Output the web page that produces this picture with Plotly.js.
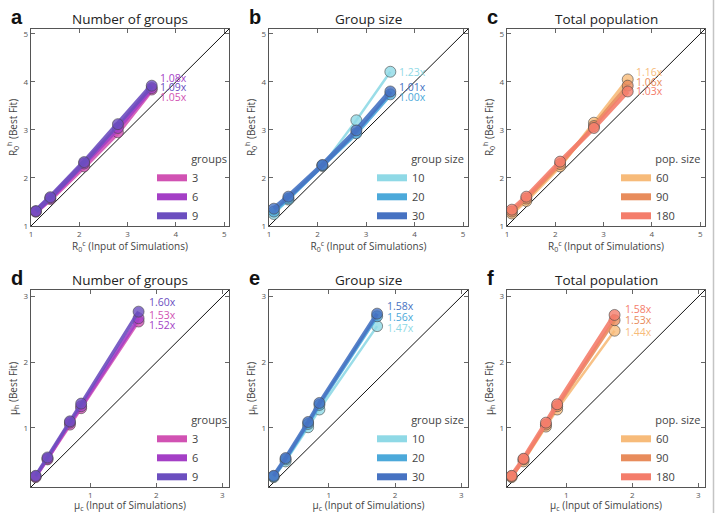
<!DOCTYPE html>
<html>
<head>
<meta charset="utf-8">
<script src="https://cdn.plot.ly/plotly-3.0.1.min.js"></script>
<style>html,body{margin:0;padding:0;background:#fff;}#chart{width:718px;height:513px;}</style>
</head>
<body>
<div id="chart"></div>
<script>
// ---------------- data ----------------
const xR0 = [1.1, 1.4, 2.1, 2.8, 3.5];          // R0 input values (top row)
const xMu = [0.17, 0.35, 0.69, 0.86, 1.73];     // mu input values (bottom row)

const groupLabels = ['3', '6', '9'];
const sizeLabels = ['10', '20', '30'];
const popLabels = ['60', '90', '180'];

// panel a: number of groups (R0)
const a_g3 = [1.30, 1.56, 2.24, 2.95, 3.84];
const a_g6 = [1.30, 1.58, 2.30, 3.04, 3.87];
const a_g9 = [1.31, 1.60, 2.33, 3.12, 3.92];
const a_slopes = ['1.05x', '1.08x', '1.09x'];

// panel b: group size (R0)
const b_s10 = [1.25, 1.55, 2.25, 3.20, 4.21];
const b_s20 = [1.30, 1.57, 2.26, 2.93, 3.74];
const b_s30 = [1.36, 1.61, 2.27, 2.99, 3.80];
const b_slopes = ['1.23x', '1.00x', '1.01x'];

// panel c: total population (R0)
const c_p60 = [1.26, 1.52, 2.24, 3.15, 4.05];
const c_p90 = [1.30, 1.57, 2.29, 3.08, 3.92];
const c_p180 = [1.34, 1.61, 2.34, 3.04, 3.80];
const c_slopes = ['1.16x', '1.06x', '1.03x'];

// panel d: number of groups (mu)
const d_g3 = [0.25, 0.52, 1.05, 1.30, 2.62];
const d_g6 = [0.26, 0.53, 1.08, 1.33, 2.67];
const d_g9 = [0.27, 0.55, 1.10, 1.37, 2.77];
const d_slopes = ['1.53x', '1.52x', '1.60x'];

// panel e: group size (mu)
const e_s10 = [0.25, 0.49, 1.01, 1.28, 2.55];
const e_s20 = [0.26, 0.52, 1.06, 1.35, 2.70];
const e_s30 = [0.27, 0.54, 1.09, 1.38, 2.74];
const e_slopes = ['1.47x', '1.56x', '1.58x'];

// panel f: total population (mu)
const f_p60 = [0.25, 0.49, 1.02, 1.28, 2.48];
const f_p90 = [0.26, 0.52, 1.05, 1.33, 2.64];
const f_p180 = [0.27, 0.53, 1.08, 1.36, 2.72];
const f_slopes = ['1.44x', '1.53x', '1.58x'];

const titles = ['Number of groups', 'Group size', 'Total population'];
const legendTitles = ['groups', 'group size', 'pop. size'];
const panelLetters = ['a', 'b', 'c', 'd', 'e', 'f'];
const rangeR0 = [1, 5.1];
const rangeMu = [0.1, 3.1];
const ticksR0 = [1, 2, 3, 4, 5];
const ticksMu = [1, 2, 3];

// ---------------- styles / positions ----------------
const palettes = [
  ['#d152b3', '#a43fc6', '#6b4ebf'],
  ['#8fd9e6', '#4ca9da', '#4672c2'],
  ['#f7bb7a', '#e88c5c', '#f47d6b']
];
const lineWidths = [
  [5, 5, 5], [2.5, 4, 5], [3.5, 4, 4.5],
  [3, 3.5, 3.5], [2.5, 3.5, 4], [2.5, 3.5, 4.5]
];
// label y (data coords) for each series label, same series order
const labelY = [
  [3.69, 4.09, 3.90],
  [4.20, 3.68, 3.90],
  [4.20, 3.99, 3.80],
  [2.72, 2.56, 2.91],
  [2.52, 2.69, 2.85],
  [2.46, 2.64, 2.81]
];
const labelX = [3.64, 3.64, 3.64, 1.85, 1.85, 1.85];
const legendOffset = [121, 103, 109];   // px from plot left

const W = 718, H = 513;
const colPx = [[31, 229], [269, 468], [507, 705]];
const rowPx = [[29, 226], [290, 487]];
const FONT = 'Open Sans, Noto Sans, sans-serif';

const panels = [
  {ys: [a_g3, a_g6, a_g9], names: groupLabels, slopes: a_slopes, x: xR0, kind: 0, row: 0, col: 0},
  {ys: [b_s10, b_s20, b_s30], names: sizeLabels, slopes: b_slopes, x: xR0, kind: 1, row: 0, col: 1},
  {ys: [c_p60, c_p90, c_p180], names: popLabels, slopes: c_slopes, x: xR0, kind: 2, row: 0, col: 2},
  {ys: [d_g3, d_g6, d_g9], names: groupLabels, slopes: d_slopes, x: xMu, kind: 0, row: 1, col: 0},
  {ys: [e_s10, e_s20, e_s30], names: sizeLabels, slopes: e_slopes, x: xMu, kind: 1, row: 1, col: 1},
  {ys: [f_p60, f_p90, f_p180], names: popLabels, slopes: f_slopes, x: xMu, kind: 2, row: 1, col: 2}
];

const traces = [];
const annotations = [];
const layout = {
  width: W, height: H,
  margin: {l: 0, r: 0, t: 0, b: 0},
  paper_bgcolor: '#fff', plot_bgcolor: '#fff',
  font: {family: FONT, color: '#444'},
  showlegend: true,
  annotations: annotations,
  shapes: [{type: 'line', xref: 'paper', yref: 'paper', x0: 713.5 / W, x1: 713.5 / W, y0: 0, y1: 1,
            line: {color: '#c4c4c4', width: 1.5}}]
};

function hexA(hex, a) {
  const n = parseInt(hex.slice(1), 16);
  return `rgba(${(n >> 16) & 255},${(n >> 8) & 255},${n & 255},${a})`;
}

panels.forEach((p, i) => {
  const k = i + 1;
  const xa = 'x' + (k === 1 ? '' : k), ya = 'y' + (k === 1 ? '' : k);
  const xName = 'xaxis' + (k === 1 ? '' : k), yName = 'yaxis' + (k === 1 ? '' : k);
  const legName = 'legend' + (k === 1 ? '' : k);
  const cp = colPx[p.col], rp = rowPx[p.row];
  const top = p.row === 0;
  const rng = top ? rangeR0 : rangeMu;
  const tv = top ? ticksR0 : ticksMu;
  const pal = palettes[p.kind];

  const axCommon = {
    range: rng, tickvals: tv, ticks: 'inside', ticklen: 4, tickwidth: 1, tickcolor: '#666',
    showline: true, linecolor: '#555', linewidth: 1.3, mirror: 'ticks', showgrid: false, zeroline: false,
    tickfont: {size: 8, color: '#555', family: FONT}, fixedrange: true
  };
  layout[xName] = Object.assign({}, axCommon, {
    domain: [cp[0] / W, cp[1] / W], anchor: ya,
    title: {text: top ? 'R<sub>0</sub><sup>c</sup> (Input of Simulations)' : 'μ<sub>c</sub> (Input of Simulations)',
            font: {size: 10, color: '#444', family: FONT}, standoff: 3}
  });
  layout[yName] = Object.assign({}, axCommon, {
    domain: [1 - rp[1] / H, 1 - rp[0] / H], anchor: xa,
    title: {text: top ? 'R<sub>0</sub><sup>h</sup> (Best Fit)' : 'μ<sub>h</sub> (Best Fit)',
            font: {size: 10, color: '#444', family: FONT}, standoff: 4}
  });

  // diagonal identity line across the axis range
  traces.push({x: rng, y: rng, xaxis: xa, yaxis: ya, mode: 'lines', type: 'scatter',
               line: {color: '#111', width: 1}, showlegend: false, hoverinfo: 'skip'});

  p.ys.forEach((yv, j) => {
    traces.push({
      x: p.x, y: yv, xaxis: xa, yaxis: ya, type: 'scatter', mode: 'lines+markers',
      name: p.names[j], showlegend: false,
      line: {color: hexA(pal[j], 0.9), width: lineWidths[i][j]},
      marker: {size: 11, color: hexA(pal[j], 0.8), line: {color: 'rgba(70,70,70,0.75)', width: 0.8}}
    });
    // legend swatch entry (no coordinates)
    traces.push({
      x: [null], y: [null], xaxis: xa, yaxis: ya, type: 'scatter', mode: 'lines',
      name: p.names[j], legend: legName, showlegend: true,
      line: {color: pal[j], width: 7}, hoverinfo: 'skip'
    });
    annotations.push({
      xref: xa, yref: ya, x: labelX[i], y: labelY[i][j], text: p.slopes[j],
      showarrow: false, xanchor: 'left', yanchor: 'middle',
      font: {size: 10.5, color: pal[j], family: FONT}
    });
  });

  layout[legName] = {
    x: (cp[0] + legendOffset[p.kind]) / W, y: 1 - (rp[1] + 5) / H, xanchor: 'left', yanchor: 'bottom',
    bgcolor: 'rgba(0,0,0,0)', borderwidth: 0,
    font: {size: 11, color: '#444', family: FONT},
    title: {text: '\u00a0'.repeat(13) + legendTitles[p.kind], font: {size: 11, color: '#444', family: FONT}},
    itemclick: false, itemdoubleclick: false, tracegroupgap: 0
  };

  // panel title
  annotations.push({
    xref: 'paper', yref: 'paper', x: (cp[0] + cp[1]) / 2 / W, y: 1 - (rp[0] - 10) / H,
    text: titles[p.kind], showarrow: false, xanchor: 'center', yanchor: 'middle',
    font: {size: 13.5, color: '#222', family: FONT}
  });
  // panel letter
  annotations.push({
    xref: 'paper', yref: 'paper', x: (p.col === 0 ? 9 : cp[0] - 22) / W, y: 1 - (rp[0] - 12) / H,
    text: '<b>' + panelLetters[i] + '</b>', showarrow: false, xanchor: 'left', yanchor: 'middle',
    font: {size: 20, color: '#111', family: 'Liberation Sans, Arial, sans-serif'}
  });
});

Plotly.newPlot('chart', traces, layout, {staticPlot: true, displayModeBar: false});
</script>
</body>
</html>
